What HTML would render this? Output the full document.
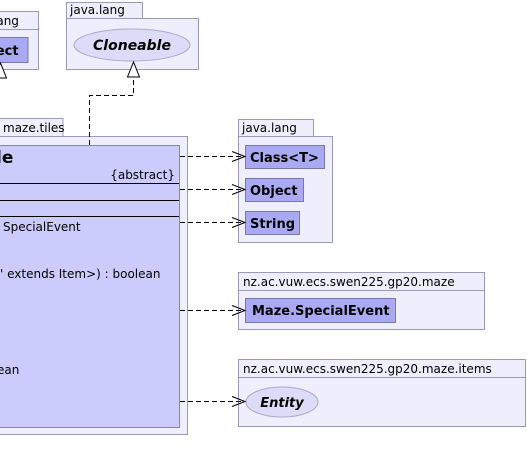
<!DOCTYPE html>
<html><head><meta charset="utf-8"><style>
html,body{margin:0;padding:0;background:#fff;width:527px;height:472px;overflow:hidden}
text{font-family:"DejaVu Sans","Liberation Sans",sans-serif;font-size:12px;fill:#000}
.b{font-weight:bold;font-size:13px}
</style></head><body>
<svg width="527" height="472" xmlns="http://www.w3.org/2000/svg">
<g stroke="#9999bb" stroke-width="1" fill="#eeeefc">
<rect x="-10" y="11.5" width="48.5" height="18"/>
<rect x="-10" y="29.5" width="48.5" height="40"/>
<rect x="66.5" y="2.5" width="76" height="16"/>
<rect x="66.5" y="18.5" width="132" height="51"/>
<rect x="-10" y="118.5" width="73" height="18"/>
<rect x="-10" y="136.5" width="197.5" height="298"/>
<rect x="238.5" y="119.5" width="75" height="17"/>
<rect x="238.5" y="136.5" width="94" height="106"/>
<rect x="238.5" y="272.5" width="246" height="18"/>
<rect x="238.5" y="290.5" width="246" height="39"/>
<rect x="238.5" y="359.5" width="287" height="18"/>
<rect x="238.5" y="377.5" width="287" height="49"/>
</g>
<g stroke="#7777aa" fill="#aaaaf4">
<rect x="-10" y="37.5" width="38" height="25"/>
<rect x="245.5" y="145.5" width="79" height="23"/>
<rect x="245.5" y="178.5" width="58" height="23"/>
<rect x="245.5" y="211.5" width="54" height="23"/>
<rect x="245.5" y="298.5" width="150" height="24"/>
</g>
<g stroke="#aaaacc" fill="#dcdcf8">
<ellipse cx="132" cy="45" rx="58" ry="16"/>
<ellipse cx="282" cy="402" rx="36" ry="15"/>
</g>
<rect x="-10" y="145.5" width="189.5" height="282" fill="#ccccfc" stroke="#8888aa"/>
<g stroke="#000" stroke-width="1">
<line x1="0" y1="183.5" x2="179" y2="183.5"/>
<line x1="0" y1="200.5" x2="179" y2="200.5"/>
<line x1="0" y1="216.5" x2="179" y2="216.5"/>
</g>
<g stroke="#000" fill="none" stroke-dasharray="5,3">
<polyline points="89.5,145 89.5,95.5 133.5,95.5 133.5,77"/>
<line x1="180" y1="156.5" x2="244" y2="156.5"/>
<line x1="180" y1="189.5" x2="244" y2="189.5"/>
<line x1="180" y1="222.5" x2="244" y2="222.5"/>
<line x1="180" y1="310.5" x2="244" y2="310.5"/>
<line x1="180" y1="401.5" x2="244" y2="401.5"/>
</g>
<g stroke="#000" fill="none">
<path d="M232,151.5 L245,156.5 L232,161.5"/>
<path d="M232,184.5 L245,189.5 L232,194.5"/>
<path d="M232,217.5 L245,222.5 L232,227.5"/>
<path d="M232,305.5 L245,310.5 L232,315.5"/>
<path d="M232,396.5 L245,401.5 L232,406.5"/>
</g>
<polygon points="133.5,62 127.5,77 139.5,77" fill="#fff" stroke="#000"/>
<polygon points="0.5,63 -5.5,78 6.5,78" fill="#fff" stroke="#000"/>
<text x="-7" y="25">lang</text>
<text x="-29" y="55" class="b">Object</text>
<text x="70" y="14">java.lang</text>
<text x="132" y="50" class="b" text-anchor="middle" font-style="italic" style="font-size:14px">Cloneable</text>
<text x="3" y="132">maze.tiles</text>
<text x="-4" y="163" class="b" style="font-size:17px">le</text>
<text x="175" y="179" text-anchor="end">{abstract}</text>
<text x="3" y="231">SpecialEvent</text>
<text x="0" y="278">' extends Item&gt;) : boolean</text>
<text x="-3" y="374">ean</text>
<text x="242" y="132">java.lang</text>
<text x="250" y="162" class="b">Class&lt;T&gt;</text>
<text x="250" y="195" class="b">Object</text>
<text x="250" y="228" class="b">String</text>
<text x="243" y="286">nz.ac.vuw.ecs.swen225.gp20.maze</text>
<text x="252" y="315" class="b">Maze.SpecialEvent</text>
<text x="243" y="373">nz.ac.vuw.ecs.swen225.gp20.maze.items</text>
<text x="282" y="407" class="b" text-anchor="middle" font-style="italic">Entity</text>
</svg>
</body></html>
